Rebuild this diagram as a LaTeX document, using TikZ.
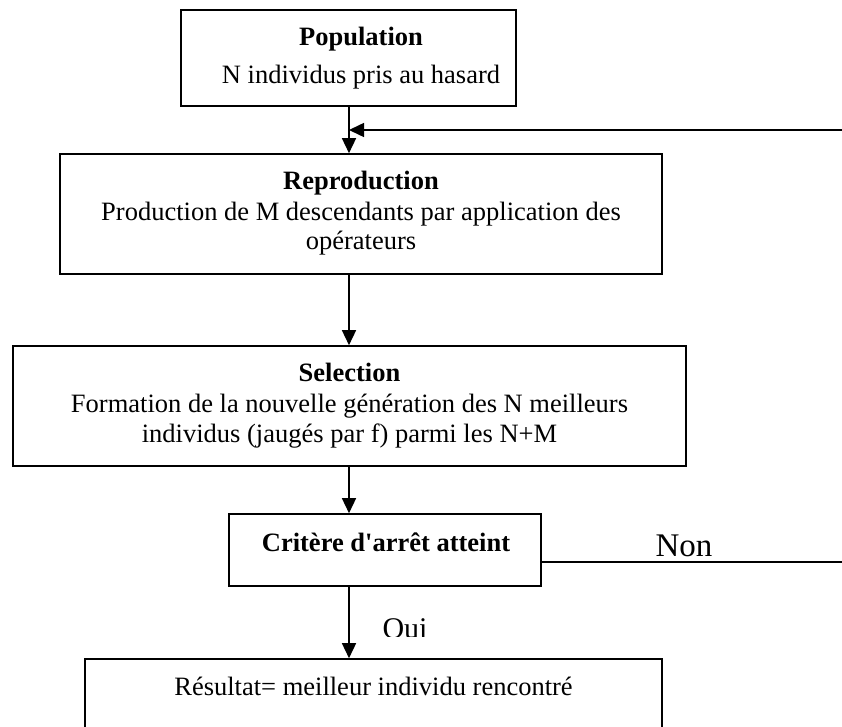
\documentclass[tikz,border=0pt]{standalone}
\usepackage{fontspec}
\setmainfont{Liberation Serif}
% same face without TeX ligatures, so that ' stays a straight quote
\newfontfamily\plainserif{Liberation Serif}
\usetikzlibrary{arrows.meta}
\begin{document}
\begin{tikzpicture}[x=1pt,y=-1pt,
  box/.style={draw, line width=1.6pt, rectangle, inner sep=0pt},
  txt/.style={anchor=base, inner sep=0pt, font=\fontsize{26.5}{30}\selectfont},
  btxt/.style={txt, font=\fontsize{26.5}{30}\selectfont\bfseries},
  lbl/.style={anchor=base, inner sep=0pt, font=\fontsize{30}{34}\selectfont},
  link/.style={line width=1.5pt},
  arr/.style={link, -{Triangle[length=15pt,width=14pt]}}]

% page frame; everything outside is cut away
\clip (0,0) rectangle (842,727);

% main axis of the flow
\coordinate (ax) at (349,0);

% boxes
\node[box, minimum width=335pt, minimum height=96pt]  (pop)  at (348.5,58) {};
\node[box, minimum width=602pt, minimum height=120pt] (rep)  at (361,214) {};
\node[box, minimum width=673pt, minimum height=120pt] (sel)  at (349.5,406) {};
\node[box, minimum width=312pt, minimum height=72pt]  (crit) at (385,550) {};
\node[box, minimum width=577pt, minimum height=100pt] (res)  at (373.5,709) {};

% box contents
\node[btxt] (popT) at (361,46) {Population};
\node[txt]  (popB) at (361,84) {N individus pris au hasard};

\node[btxt] (repT)  at (361,190) {Reproduction};
\node[txt]  (repB1) at (361,220) {Production de M descendants par application des};
\node[txt]  (repB2) at (361,249) {opérateurs};

\node[btxt] (selT)  at (349.5,381) {Selection};
\node[txt]  (selB1) at (349.5,412) {Formation de la nouvelle génération des N meilleurs};
\node[txt]  (selB2) at (349.5,442) {individus (jaugés par f) parmi les N+M};

\node[btxt, font=\fontsize{26.5}{30}\selectfont\plainserif\bfseries] (critT) at (386,551) {Critère d'arrêt atteint};

\node[txt] (resT) at (373.5,695) {Résultat= meilleur individu rencontré};

% loop ends running off the right edge
\coordinate (loopin)  at (842,130);
\coordinate (loopout) at (842,562);

% connectors
\draw[arr] (pop.south -| ax) -- (rep.north -| ax);
\draw[arr] (loopin) -- (loopin -| ax);
\draw[arr] (rep.south -| ax) -- (sel.north -| ax);
\draw[arr] (sel.south -| ax) -- (crit.north -| ax);
\draw[arr] (crit.south -| ax) -- (res.north -| ax);
\draw[link] (crit.east |- loopout) -- (loopout);

% branch labels
\node[lbl, font=\fontsize{33}{36}\selectfont] (non) at (684,556) {Non};
\begin{scope}
  \clip (0,0) rectangle (842,636);
  \node[lbl] (oui) at (405,638) {Oui};
\end{scope}
\end{tikzpicture}
\end{document}
